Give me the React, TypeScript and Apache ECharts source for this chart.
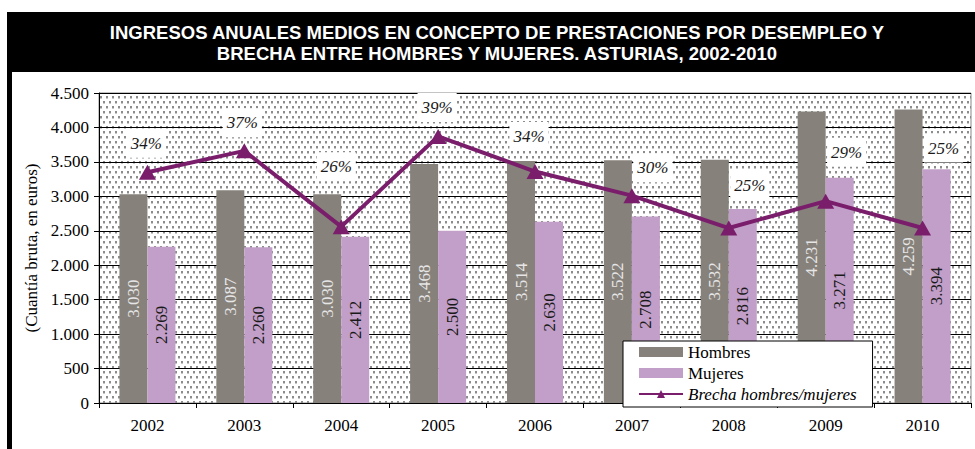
import React, { useEffect, useRef } from "react";
import * as echarts from "echarts";

const years = ["2002", "2003", "2004", "2005", "2006", "2007", "2008", "2009", "2010"];
const hombres = [3030, 3087, 3030, 3468, 3514, 3522, 3532, 4231, 4259];
const mujeres = [2269, 2260, 2412, 2500, 2630, 2708, 2816, 3271, 3394];
const brecha = [33.5, 36.6, 25.6, 38.7, 33.6, 30.1, 25.4, 29.3, 25.4];
const yTicks = [0, 500, 1000, 1500, 2000, 2500, 3000, 3500, 4000, 4500];

// label placement offsets for gap labels (dx, dy from point)
const gapLabelOffsets = [
  [-1, -29], [-2, -28], [-5, -60], [-1, -29], [-6, -35],
  [21, -28], [21, -43], [21, -49], [21, -80],
];

const SERIF = "Liberation Serif";
const fmt = (v: number) => String(Math.round(v)).replace(/\B(?=(\d{3})+(?!\d))/g, ".");

function makePattern() {
  const c = document.createElement("canvas");
  c.width = 6;
  c.height = 10;
  const ctx = c.getContext("2d")!;
  ctx.fillStyle = "#ffffff";
  ctx.fillRect(0, 0, 6, 10);
  ctx.fillStyle = "#8c8c8c";
  ctx.fillRect(1, 1, 2, 2);
  ctx.fillRect(4, 6, 2, 2);
  ctx.fillStyle = "#c8c8c8";
  ctx.fillRect(1, 3, 2, 1);
  ctx.fillRect(4, 8, 2, 1);
  return c;
}

export default function App() {
  const ref = useRef<HTMLDivElement>(null);
  useEffect(() => {
    document.body.style.margin = "0";
    const chart = echarts.init(ref.current!, null, { renderer: "svg" });
    const pattern = makePattern();
    const purple = "#7a1e6c";
    chart.setOption({
      animation: false,
      backgroundColor: "#ffffff",
      graphic: [
        { type: "rect", shape: { x: 7, y: 12, width: 975, height: 60 }, style: { fill: "#000" }, z: 0 },
        { type: "rect", shape: { x: 7, y: 72, width: 5, height: 380 }, style: { fill: "#000" }, z: 0 },
        {
          type: "text",
          x: 497,
          y: 43,
          z: 10,
          style: {
            text: "INGRESOS ANUALES MEDIOS EN CONCEPTO DE PRESTACIONES POR DESEMPLEO Y\nBRECHA ENTRE HOMBRES Y MUJERES. ASTURIAS, 2002-2010",
            fill: "#fff",
            font: "bold 18.5px Liberation Sans",
            align: "center",
            verticalAlign: "middle",
            lineHeight: 21.5,
          },
        },
      ],
      grid: {
        left: 99,
        right: 4,
        top: 93,
        bottom: 46,
        show: true,
        backgroundColor: { image: pattern, repeat: "repeat", imageWidth: 6, imageHeight: 10 },
        borderColor: "#888",
        borderWidth: 1,
      },
      legend: {
        orient: "vertical",
        left: 623,
        top: 341,
        backgroundColor: "#fff",
        borderColor: "#000",
        borderWidth: 1,
        padding: [1, 16, 3, 15],
        itemGap: 1,
        itemWidth: 44,
        itemHeight: 10,
        textStyle: { fontFamily: SERIF, fontSize: 17, color: "#000", lineHeight: 20 },
        data: [
          { name: "Hombres", icon: "rect" },
          { name: "Mujeres", icon: "rect" },
          { name: "Brecha hombres/mujeres", textStyle: { fontStyle: "italic" } },
        ],
      },
      xAxis: {
        type: "category",
        data: years,
        axisLine: { lineStyle: { color: "#000", width: 1 } },
        axisTick: { show: true, length: 5, lineStyle: { color: "#000" } },
        axisLabel: { fontFamily: SERIF, fontSize: 17, color: "#000", margin: 14 },
      },
      yAxis: [
        {
          type: "value",
          min: 0,
          max: 4500,
          interval: 500,
          name: "(Cuantía bruta, en euros)",
          nameLocation: "middle",
          nameGap: 58,
          nameTextStyle: { fontFamily: SERIF, fontSize: 17, color: "#000" },
          axisLine: { show: true, lineStyle: { color: "#000" } },
          axisTick: { show: true, length: 5, lineStyle: { color: "#000" } },
          splitLine: { show: true, lineStyle: { color: "#000", width: 1 } },
          axisLabel: {
            fontFamily: SERIF,
            fontSize: 17,
            color: "#000",
            margin: 10,
            formatter: (v: number) => (yTicks.includes(v) ? fmt(v) : ""),
          },
        },
        { type: "value", min: 0, max: 45, show: false, splitLine: { show: false } },
      ],
      series: [
        {
          name: "Hombres",
          type: "bar",
          data: hombres,
          barWidth: 28,
          barGap: "0%",
          itemStyle: { color: "#86817b" },
          label: {
            show: true,
            position: "inside",
            rotate: 90,
            fontFamily: SERIF,
            fontSize: 17,
            color: "#e6e6e6",
            formatter: (p: any) => fmt(p.value),
          },
        },
        {
          name: "Mujeres",
          type: "bar",
          data: mujeres,
          barWidth: 28,
          barGap: "0%",
          itemStyle: { color: "#c29fc8" },
          label: {
            show: true,
            position: "inside",
            rotate: 90,
            fontFamily: SERIF,
            fontSize: 17,
            color: "#1a1a1a",
            formatter: (p: any) => fmt(p.value),
          },
        },
        {
          name: "Brecha hombres/mujeres",
          type: "line",
          yAxisIndex: 1,
          data: brecha.map((v, i) => ({
            value: v,
            label: { offset: gapLabelOffsets[i] },
          })),
          symbol: "triangle",
          symbolSize: [17, 15],
          lineStyle: { color: purple, width: 4 },
          itemStyle: { color: purple },
          z: 5,
          label: {
            show: true,
            position: "inside",
            align: "center",
            verticalAlign: "middle",
            fontFamily: SERIF,
            fontStyle: "italic",
            fontSize: 17,
            color: "#1a1a1a",
            backgroundColor: "#fff",
            padding: [7, 4, 5, 4],
            formatter: (p: any) => Math.round(p.value) + "%",
          },
        },
      ],
    });
    return () => chart.dispose();
  }, []);
  return <div ref={ref} style={{ width: 975, height: 449 }} />;
}
